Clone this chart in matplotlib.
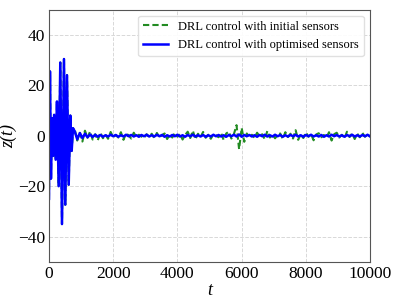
import numpy as np
from matplotlib import pyplot as plt

plt.rcParams['font.family'] = ['Liberation Serif', 'DejaVu Serif']

# transient at start (same for both runs, blue drawn on top)
t_early = [0, 31, 62, 93, 125, 160, 209, 249, 302, 352, 405, 467, 508, 561, 614, 664, 707, 748]
z_early = [-25, 25.5, -17, 7, -8, 8.3, -9.5, 13.6, -20, 29, -35, 30.4, -27.3, 24, -19.4, 8, -6, 3]

t_late = np.arange(800, 10001, 80)

green_late = [
    2.6, -1.9, 1.4, -2.3, 2.0, -0.8, 1.7, -1.5, 0.6, -1.8,
    1.3, -1.0, 0.4, -1.2, 1.5, -0.6, 0.3, -0.7, 1.4, -1.6,
    0.9, 0.2, -1.1, 1.2, -0.5, 0.4, -0.3, -0.9, 0.6, -0.4,
    0.8, -1.0, 1.1, -0.6, 0.3, 0.9, -1.3, 0.5, -0.7, 1.2,
    -0.4, 0.7, -1.5, 0.3, 1.6, -0.9, 2.0, -1.4, 0.8, -0.5,
    1.5, -0.8, 0.4, -1.2, 0.6, 0.2, -0.6, 1.1, -1.7, 0.9,
    1.6, -1.1, 0.7, 4.2, -5.3, 3.1, -2.4, 0.9, -0.6, 0.4,
    -0.8, 1.2, -0.3, 0.6, -1.4, 1.9, -0.7, 0.5, -1.0, 0.3,
    0.9, -1.2, 1.4, -0.5, 0.8, -1.1, 2.2, -1.6, 0.6, -0.9,
    1.3, -0.4, 0.7, -1.8, 0.5, 1.0, -0.6, 0.3, -0.8, 1.4,
    -1.9, 0.6, 1.2, -0.7, 0.4, -1.0, 1.6, -0.5, 0.9, -1.3,
    0.8, -0.6, 1.1, -0.4, 0.5, -0.3,
]

blue_late = [
    1.8, -1.4, 1.1, -0.9, 0.8, -0.6, 0.5, -0.5, 0.4, -0.4,
    0.3, -0.4, 0.2, -0.3, 0.4, -0.2, 0.3, -0.4, 0.2, -0.3,
    0.4, -0.2, 0.3, -0.3, 0.2, -0.4, 0.3, -0.2, 0.4, -0.3,
    0.2, -0.3, 0.4, -0.2, 0.3, -0.4, 0.2, -0.3, 0.3, -0.2,
    0.4, -0.3, 0.2, -0.4, 0.3, -0.2, 0.4, -0.3, 0.2, -0.3,
    0.3, -0.4, 0.2, -0.3, 0.4, -0.2, 0.3, -0.3, 0.2, -0.4,
    0.3, -0.2, 0.4, -0.3, 0.5, -0.4, 0.3, -0.2, 0.3, -0.3,
    0.2, -0.4, 0.3, -0.2, 0.4, -0.3, 0.2, -0.3, 0.4, -0.2,
    0.3, -0.4, 0.2, -0.3, 0.3, -0.2, 0.4, -0.3, 0.2, -0.4,
    0.3, -0.2, 0.4, -0.3, 0.2, -0.3, 0.3, -0.4, 0.2, -0.3,
    0.4, -0.2, 0.3, -0.3, 0.2, -0.4, 0.3, -0.2, 0.4, -0.3,
    0.2, -0.3, 0.3, -0.2, 0.4, -0.3,
]

t_green = np.concatenate([t_early, t_late])
z_green = np.concatenate([z_early, green_late])
t_blue = np.concatenate([t_early, t_late])
z_blue = np.concatenate([z_early, blue_late])

fig = plt.figure(figsize=(3.95, 2.99), dpi=100)
ax = fig.add_axes([0.124, 0.124, 0.813, 0.844])

ax.plot(t_green, z_green, '--', c='forestgreen', lw=1.5, dashes=(3, 1.5),
        label='DRL control with initial sensors')
ax.plot(t_blue, z_blue, c='blue', lw=1.8, label='DRL control with optimised sensors')

ax.set_xlim(0, 10000)
ax.set_ylim(-50, 50)
ax.set_xticks([0, 2000, 4000, 6000, 8000, 10000])
ax.set_yticks([-40, -20, 0, 20, 40])
ax.tick_params(labelsize=12.5, length=0, pad=3)
ax.grid(True, ls='--', lw=0.7, c='#d8d8d8')
for s in ax.spines.values():
    s.set_color('#555555')
ax.set_xlabel('t', fontsize=13, style='italic', labelpad=0)
ax.set_ylabel('z(t)', fontsize=13, style='italic', labelpad=0)
ax.legend(loc='upper right', fontsize=9, framealpha=0.9, edgecolor='#dddddd')

fig.savefig('out.png', dpi=100)
